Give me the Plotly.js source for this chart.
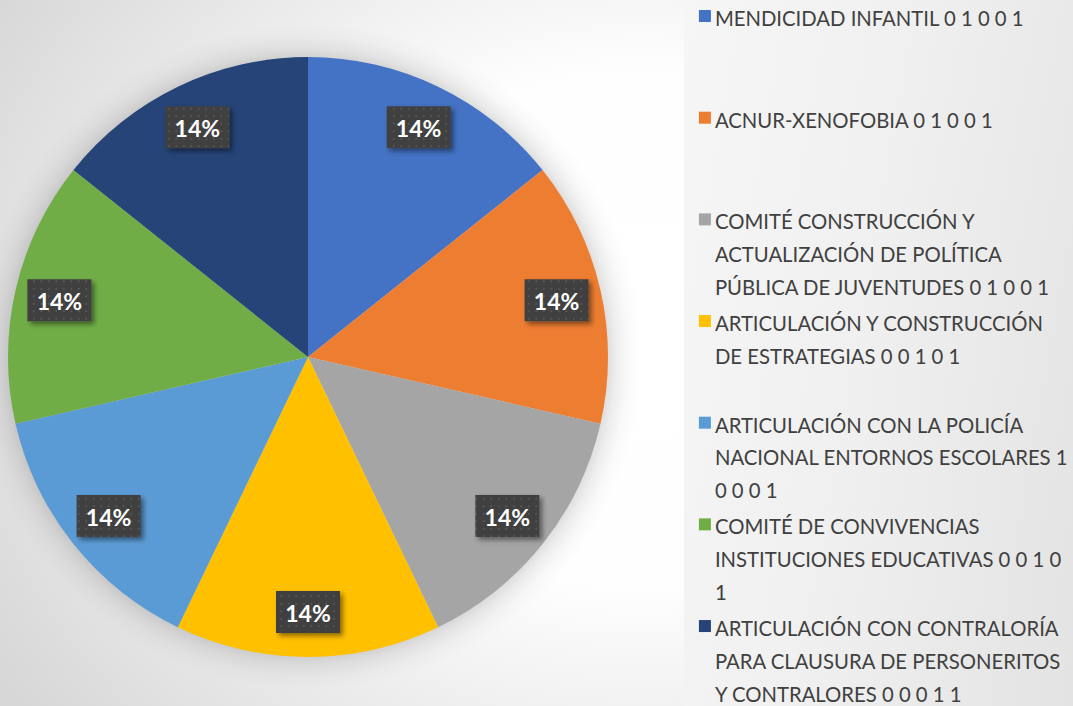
<!DOCTYPE html>
<html>
<head>
<meta charset="utf-8">
<script src="https://cdn.plot.ly/plotly-3.0.1.min.js"></script>
<style>
  html, body { margin: 0; padding: 0; }
  #wrap { position: relative; width: 1073px; height: 706px; overflow: hidden; }
  #bgL { position: absolute; left: 0; top: 0; width: 684px; height: 706px;
    background:
      radial-gradient(circle at 308px 357px, rgba(0,0,0,0.13) 299px, rgba(0,0,0,0.07) 308px, rgba(0,0,0,0.025) 320px, rgba(0,0,0,0) 334px),
      radial-gradient(ellipse 760px 640px at 640px 330px, #ffffff 0%, #fefefe 40%, #e9e9e9 72%, #d7d7d7 100%);
  }
  #bgR { position: absolute; left: 684px; top: 0; width: 389px; height: 706px;
    background: linear-gradient(100deg, #f6f6f6 0%, #f0f0f0 45%, #e3e3e3 100%);
  }
  #chart { position: absolute; left: 0; top: 0; width: 1073px; height: 706px; }
</style>
</head>
<body>
<div id="wrap">
  <div id="bgL"></div>
  <div id="bgR"></div>
  <div id="chart"></div>
</div>
<script>
// ---- data ----
const categories = [
  "MENDICIDAD INFANTIL 0 1 0 0 1",
  "ACNUR-XENOFOBIA 0 1 0 0 1",
  "COMITÉ CONSTRUCCIÓN Y<br>ACTUALIZACIÓN DE POLÍTICA<br>PÚBLICA DE JUVENTUDES 0 1 0 0 1",
  "ARTICULACIÓN Y CONSTRUCCIÓN<br>DE ESTRATEGIAS 0 0 1 0 1",
  "ARTICULACIÓN CON LA POLICÍA<br>NACIONAL ENTORNOS ESCOLARES 1<br>0 0 0 1",
  "COMITÉ DE CONVIVENCIAS<br>INSTITUCIONES EDUCATIVAS 0 0 1 0<br>1",
  "ARTICULACIÓN CON CONTRALORÍA<br>PARA CLAUSURA DE PERSONERITOS<br>Y CONTRALORES 0 0 0 1 1"
];
const values = [1, 1, 1, 1, 1, 1, 1];
const colors = ["#4472C4", "#ED7D31", "#A5A5A5", "#FFC000", "#5B9BD5", "#70AD47", "#264478"];
// blank lines appended to legend entries to reproduce the vertical spacing
const legendPadLines = [2, 2, 0, 1, 0, 0, 0];

const legendLabels = categories.map((c, i) => {
  const lines = c.split("<br>").map(s => '<span style="font-size:20.3px">' + s + '</span>');
  for (let k = 0; k < legendPadLines[i]; k++) lines.push("\u00a0");
  return lines.join("<br>");
});

const trace = {
  type: "pie",
  labels: legendLabels,
  values: values,
  sort: false,
  direction: "clockwise",
  rotation: 0,
  marker: { colors: colors, line: { width: 0 } },
  texttemplate: "%{percent:.0%}",
  textposition: "inside",
  insidetextorientation: "horizontal",
  insidetextfont: { family: "Lato, 'Open Sans', sans-serif", size: 23, color: "#ffffff", weight: "bold" },
  hoverinfo: "label+percent",
  domain: { x: [8 / 1073, 608 / 1073], y: [1 - 657 / 706, 1 - 57 / 706] }
};

const layout = {
  width: 1073, height: 706,
  margin: { l: 0, r: 0, t: 0, b: 0, autoexpand: false },
  paper_bgcolor: "rgba(0,0,0,0)",
  plot_bgcolor: "rgba(0,0,0,0)",
  showlegend: true,
  legend: {
    x: 0.629, xanchor: "left",
    y: 1.0098, yanchor: "top",
    valign: "top",
    maxheight: 2000,
    bgcolor: "rgba(0,0,0,0)",
    borderwidth: 0,
    font: { family: "Lato, 'Open Sans', sans-serif", size: 25.3, color: "#404040" }
  }
};

Plotly.newPlot("chart", [trace], layout, { displayModeBar: false, staticPlot: true }).then(gd => {
  const svg = gd.querySelector(".main-svg");
  const NS = "http://www.w3.org/2000/svg";
  // defs: dotted pattern and shadow filter for data label boxes
  let defs = svg.querySelector("defs");
  const pat = document.createElementNS(NS, "pattern");
  pat.setAttribute("id", "dotpat");
  pat.setAttribute("patternUnits", "userSpaceOnUse");
  pat.setAttribute("width", "7.5"); pat.setAttribute("height", "7.5");
  pat.innerHTML = '<rect width="7.5" height="7.5" fill="#404040"/><rect x="3" y="3" width="1.6" height="1.6" fill="#5e5e5e"/>';
  defs.appendChild(pat);
  const filt = document.createElementNS(NS, "filter");
  filt.setAttribute("id", "lblshadow");
  filt.setAttribute("x", "-30%"); filt.setAttribute("y", "-30%");
  filt.setAttribute("width", "160%"); filt.setAttribute("height", "160%");
  filt.innerHTML = '<feDropShadow dx="3" dy="3" stdDeviation="2.5" flood-color="#000" flood-opacity="0.45"/>';
  defs.appendChild(filt);

  const cd = gd.calcdata[0];
  const cx = cd[0].cx, cy = cd[0].cy;
  const radialFrac = 0.85;
  const texts = gd.querySelectorAll("g.slice text.slicetext");
  texts.forEach((t, i) => {
    const pt = cd[i];
    const tx = cx + pt.pxmid[0] * radialFrac;
    const ty = cy + pt.pxmid[1] * radialFrac;
    t.setAttribute("transform", "");
    const bb = t.getBBox();
    t.setAttribute("transform", `translate(${tx - (bb.x + bb.width / 2)},${ty - (bb.y + bb.height / 2) + 1})`);
    const w = 64, h = 42;
    const r = document.createElementNS(NS, "rect");
    r.setAttribute("x", tx - w / 2); r.setAttribute("y", ty - h / 2);
    r.setAttribute("width", w); r.setAttribute("height", h);
    r.setAttribute("fill", "url(#dotpat)");
    r.setAttribute("filter", "url(#lblshadow)");
    t.parentNode.insertBefore(r, t);
  });

  // tighten the gap between legend swatch and its text
  gd.querySelectorAll(".legend g.legendpoints").forEach(p => {
    p.setAttribute("transform", "translate(10,0)");
  });
});
</script>
</body>
</html>
